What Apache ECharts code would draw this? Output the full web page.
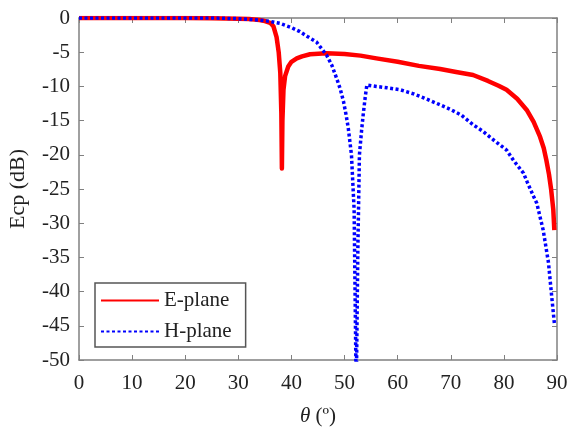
<!DOCTYPE html>
<html>
<head>
<meta charset="utf-8">
<script src="https://cdn.jsdelivr.net/npm/echarts@6/dist/echarts.min.js"></script>
<style>html,body{margin:0;padding:0;background:#fff}#c{width:573px;height:431px}</style>
</head>
<body>
<div id="c"></div>
<script>
const thetaE = [0,5,10,15,20,25,30,32,34,35,36,36.6,37.2,37.6,37.9,38.1,38.2,38.3,38.5,38.8,39.4,40,41,42,43.5,46.6,50,53,56,60,64,68,71,74.2,77,79,80.5,82.5,84.3,85.6,86.8,87.5,88.0,88.5,88.9,89.3,89.5];
const ecpE   = [0,0,0,0,0,-0.05,-0.1,-0.15,-0.3,-0.45,-0.7,-1.2,-2.8,-5,-8,-14,-22,-15,-10.5,-8.5,-7.1,-6.4,-5.9,-5.6,-5.3,-5.17,-5.25,-5.5,-5.9,-6.4,-7.0,-7.46,-7.9,-8.33,-9.2,-9.9,-10.5,-11.8,-13.45,-15.2,-17.35,-19.0,-20.8,-22.9,-25.1,-28,-31];
const thetaH = [0,5,10,15,20,25,30,32,34,36,37.8,40,41.6,43,44.7,46.6,47.6,48.5,49.2,49.8,50.3,50.7,51.3,51.8,52.2,52.5,52.8,53.2,53.5,53.9,54.2,56,58,60.5,63,65,68,70,72,74.2,76.1,78,80.5,81.8,83.7,84.4,85.6,86.2,87.4,88.4,89.0,89.5];
const ecpH   = [0,0,0,0,0,0,-0.1,-0.2,-0.3,-0.5,-0.78,-1.4,-2.0,-2.7,-3.5,-5.4,-6.9,-8.8,-10.4,-12.2,-14.2,-16.1,-20,-28,-55,-34,-20,-16.5,-14.2,-11.5,-9.8,-10.0,-10.2,-10.5,-11.1,-11.7,-12.7,-13.4,-14.2,-15.6,-16.6,-17.8,-19.3,-20.8,-22.7,-24,-26.1,-27.1,-31,-35.8,-40.7,-44.6];
const xTicks = [0,10,20,30,40,50,60,70,80,90];
const yTicks = [0,-5,-10,-15,-20,-25,-30,-35,-40,-45,-50];
const seriesNames = ['E-plane','H-plane'];

const font = 'Liberation Serif';
const axisGray = '#808080';
const txt = '#222';
const chart = echarts.init(document.getElementById('c'));
const commonAxis = {
  axisLine:{show:true, onZero:false, lineStyle:{color:axisGray, width:1.5}},
  axisTick:{show:true, inside:true, length:5, lineStyle:{color:axisGray, width:1}},
  splitLine:{show:false}
};
chart.setOption({
  animation:false,
  grid:{left:79, right:16, top:18, bottom:71, containLabel:false, outerBoundsMode:'none'},
  legend:{
    left:95, top:283, orient:'vertical',
    data:seriesNames,
    itemWidth:58, itemHeight:14, itemGap:10,
    padding:[7,14,5,5],
    borderColor:'#555', borderWidth:1.5, backgroundColor:'#fff',
    itemStyle:{opacity:0},
    textStyle:{fontFamily:font, fontSize:21, color:txt}
  },
  xAxis:[
    Object.assign({type:'value', min:0, max:90, interval:10, position:'bottom',
      name:'{i|θ} (º)', nameLocation:'middle', nameGap:46,
      nameTextStyle:{fontFamily:font, fontSize:21, color:txt, rich:{i:{fontFamily:font, fontStyle:'italic', fontSize:21, color:txt}}},
      axisLabel:{fontFamily:font, fontSize:21, color:txt, margin:13, formatter:v=>xTicks.includes(v)?String(v):''}}, commonAxis),
    Object.assign({type:'value', min:0, max:90, interval:10, position:'top', axisLabel:{show:false}}, commonAxis)
  ],
  yAxis:[
    Object.assign({type:'value', min:-50, max:0, interval:5, position:'left',
      name:'Ecp (dB)', nameLocation:'middle', nameGap:50,
      nameTextStyle:{fontFamily:font, fontSize:22, color:txt},
      axisLabel:{fontFamily:font, fontSize:21, color:txt, margin:9, formatter:v=>yTicks.includes(v)?String(v):''}}, commonAxis),
    Object.assign({type:'value', min:-50, max:0, interval:5, position:'right', axisLabel:{show:false}}, commonAxis)
  ],
  series:[
    {name:seriesNames[0], type:'line', symbol:'none', clip:true, z:3,
     data:thetaE.map((t,i)=>[t,ecpE[i]]),
     lineStyle:{color:'#ff0000', width:4.5, join:'round'}, itemStyle:{color:'#ff0000'}},
    {name:seriesNames[1], type:'line', symbol:'none', clip:true, z:4,
     data:thetaH.map((t,i)=>[t,ecpH[i]]),
     lineStyle:{color:'#0000ff', width:3.5, type:[3,2.5], cap:'butt'}, itemStyle:{color:'#0000ff'}}
  ]
});
</script>
</body>
</html>
